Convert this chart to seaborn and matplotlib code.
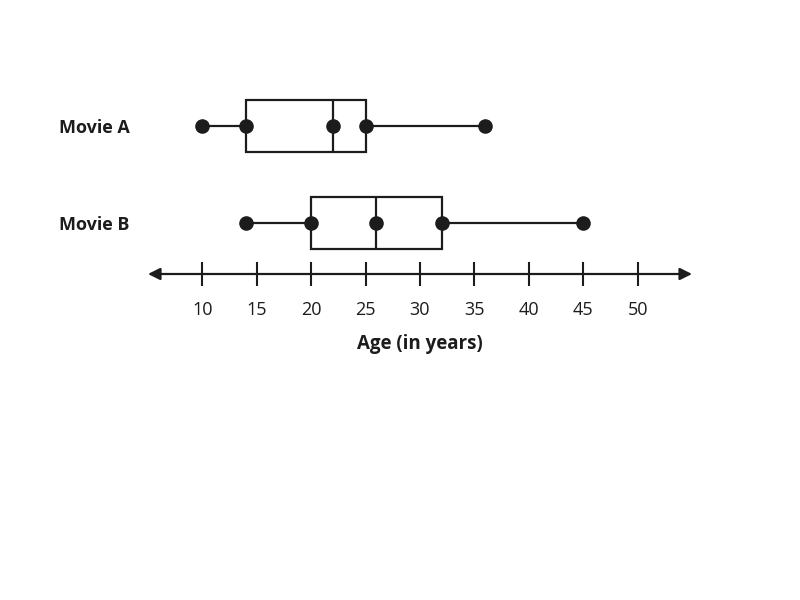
import pandas as pd
import seaborn as sns
import matplotlib.pyplot as plt

# five-number summaries
movies = ["Movie A", "Movie B"]
movie_a = [10, 14, 22, 25, 36]
movie_b = [14, 20, 26, 32, 45]
ticks = [10, 15, 20, 25, 30, 35, 40, 45, 50]

df = pd.DataFrame({
    "movie": [movies[0]] * len(movie_a) + [movies[1]] * len(movie_b),
    "age": movie_a + movie_b,
})

sns.set_style("white")
plt.rcParams['font.family'] = ['Open Sans', 'DejaVu Sans']
ink = "#1c1c1c"

fig = plt.figure(figsize=(8, 6), dpi=100)
ax = fig.add_axes([0.185, 1 - 274 / 600, 0.68, 194 / 600])

# with 5 values, quartiles land exactly on the summary values
sns.boxplot(data=df, x="age", y="movie", order=movies, orient="h",
            whis=(0, 100), width=0.536, color="white", linecolor=ink,
            linewidth=1.6, fliersize=0, showcaps=False, ax=ax)
sns.stripplot(data=df, x="age", y="movie", order=movies, orient="h",
              jitter=False, color=ink, size=10.5, zorder=5, ax=ax)

ax.set_xlim(5, 55)
ax.set_ylim(1.526, -0.474)
for s in ax.spines.values():
    s.set_visible(False)

ax.annotate("", xy=(1, 0), xytext=(0, 0), xycoords="axes fraction",
            arrowprops=dict(arrowstyle="<|-|>", lw=1.6, color=ink,
                            mutation_scale=18, shrinkA=0, shrinkB=0))

ax.set_xticks(ticks)
ax.set_xticklabels([str(t) for t in ticks])
ax.tick_params(axis="x", direction="inout", length=17, width=1.5,
               color=ink, labelsize=13, labelcolor=ink, pad=11, bottom=True)
ax.tick_params(axis="y", length=0, pad=13)
for lbl in ax.get_yticklabels():
    lbl.set_fontweight("bold")
    lbl.set_fontsize(13)
    lbl.set_color(ink)

ax.set_ylabel("")
ax.set_xlabel("Age (in years)", fontsize=13.5, fontweight="bold", color=ink, labelpad=11)

fig.savefig("out.png", dpi=100, facecolor="white")
